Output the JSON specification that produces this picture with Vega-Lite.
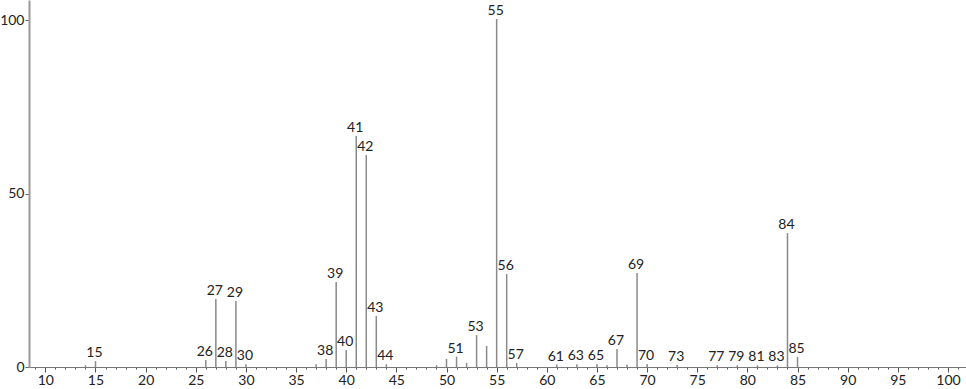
{
  "$schema": "https://vega.github.io/schema/vega-lite/v6.json",
  "width": 937,
  "height": 367,
  "autosize": {"type": "none"},
  "padding": {"left": 29, "top": 0, "right": 0, "bottom": 22},
  "background": "white",
  "config": {"view": {"stroke": null}, "font": "Lato"},
  "data": {"values": [
    {"mz": 14, "i": 0.5, "lab": ""},
    {"mz": 15, "i": 1.7, "lab": "15"},
    {"mz": 26, "i": 2.0, "lab": "26"},
    {"mz": 27, "i": 19.6, "lab": "27"},
    {"mz": 28, "i": 1.7, "lab": "28"},
    {"mz": 29, "i": 19.0, "lab": "29"},
    {"mz": 30, "i": 0.8, "lab": "30"},
    {"mz": 37, "i": 0.8, "lab": ""},
    {"mz": 38, "i": 2.3, "lab": "38"},
    {"mz": 39, "i": 24.5, "lab": "39"},
    {"mz": 40, "i": 4.9, "lab": "40"},
    {"mz": 41, "i": 66.6, "lab": "41"},
    {"mz": 42, "i": 61.1, "lab": "42"},
    {"mz": 43, "i": 14.7, "lab": "43"},
    {"mz": 44, "i": 0.8, "lab": "44"},
    {"mz": 49, "i": 0.5, "lab": ""},
    {"mz": 50, "i": 2.3, "lab": ""},
    {"mz": 51, "i": 3.0, "lab": "51"},
    {"mz": 52, "i": 1.2, "lab": ""},
    {"mz": 53, "i": 9.2, "lab": "53"},
    {"mz": 54, "i": 6.1, "lab": ""},
    {"mz": 55, "i": 100.3, "lab": "55"},
    {"mz": 56, "i": 26.8, "lab": "56"},
    {"mz": 57, "i": 1.2, "lab": "57"},
    {"mz": 61, "i": 0.7, "lab": "61"},
    {"mz": 63, "i": 0.8, "lab": "63"},
    {"mz": 65, "i": 0.9, "lab": "65"},
    {"mz": 66, "i": 0.5, "lab": ""},
    {"mz": 67, "i": 5.2, "lab": "67"},
    {"mz": 68, "i": 0.7, "lab": ""},
    {"mz": 69, "i": 27.1, "lab": "69"},
    {"mz": 70, "i": 0.9, "lab": "70"},
    {"mz": 73, "i": 0.6, "lab": "73"},
    {"mz": 77, "i": 0.5, "lab": "77"},
    {"mz": 79, "i": 0.5, "lab": "79"},
    {"mz": 81, "i": 0.5, "lab": "81"},
    {"mz": 83, "i": 0.5, "lab": "83"},
    {"mz": 84, "i": 38.6, "lab": "84"},
    {"mz": 85, "i": 2.9, "lab": "85"}
  ]},
  "encoding": {
    "x": {
      "field": "mz", "type": "quantitative",
      "scale": {"domain": [8.37, 101.8], "nice": false, "zero": false},
      "axis": {
        "title": null,
        "grid": false,
        "values": [9,10,11,12,13,14,15,16,17,18,19,20,21,22,23,24,25,26,27,28,29,30,31,32,33,34,35,36,37,38,39,40,41,42,43,44,45,46,47,48,49,50,51,52,53,54,55,56,57,58,59,60,61,62,63,64,65,66,67,68,69,70,71,72,73,74,75,76,77,78,79,80,81,82,83,84,85,86,87,88,89,90,91,92,93,94,95,96,97,98,99,100,101],
        "labelExpr": "datum.value % 5 === 0 ? datum.label : ''",
        "tickSize": {"condition": {"test": "datum.value % 5 === 0", "value": 5}, "value": 2},
        "domainColor": "#777777",
        "tickColor": "#555555",
        "labelColor": "#222222",
        "labelFontSize": 14,
        "labelPadding": 1,
        "labelFlush": false,
        "labelOverlap": false
      }
    },
    "y": {
      "field": "i", "type": "quantitative",
      "scale": {"domain": [0, 105.8], "nice": false},
      "axis": {
        "title": null,
        "grid": false,
        "values": [0, 50, 100],
        "tickSize": 4,
        "domainColor": "#999999",
        "domainWidth": 2,
        "tickColor": "#666666",
        "labelColor": "#222222",
        "labelFontSize": 14,
        "labelPadding": 1
      }
    }
  },
  "layer": [
    {
      "mark": {"type": "rule", "color": "#8a8a8a", "strokeWidth": 1.5},
      "encoding": {"y2": {"datum": 0}}
    },
    {
      "mark": {"type": "text", "baseline": "alphabetic", "align": "center", "dy": -4, "dx": -1, "fontSize": 14, "color": "#222222"},
      "encoding": {"text": {"field": "lab"}}
    }
  ]
}
